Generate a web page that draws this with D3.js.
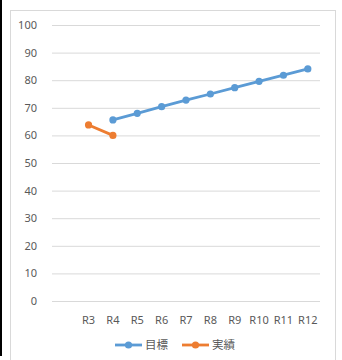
<!DOCTYPE html>
<html><head><meta charset="utf-8">
<script src="https://cdn.jsdelivr.net/npm/d3@7"></script>
<style>body{margin:0;background:#fff}svg{display:block}text{font-family:"Noto Sans CJK JP","Noto Sans",sans-serif}</style>
</head><body>
<script>
const categories = ["", "R3", "R4", "R5", "R6", "R7", "R8", "R9", "R10", "R11", "R12"];
const targetValues = [null, null, 65.6, 68.0, 70.4, 72.8, 75.0, 77.3, 79.6, 81.8, 84.1];
const actualValues = [null, 63.8, 60.0, null, null, null, null, null, null, null, null];
const yTicks = [0, 10, 20, 30, 40, 50, 60, 70, 80, 90, 100];
const seriesNames = ["目標", "実績"];
const colors = ["#5B9BD5", "#ED7D31"];

const W = 342, H = 360;
const svg = d3.select("body").append("svg").attr("width", W).attr("height", H);
svg.append("rect").attr("x", 10.5).attr("y", 10.5).attr("width", 325).attr("height", 360).attr("fill", "#fff").attr("stroke", "#D9D9D9");
svg.append("line").attr("x1", 1).attr("x2", 1).attr("y1", 0).attr("y2", 356).attr("stroke", "#000").attr("stroke-width", 2);

const x = d3.scaleBand().domain(categories.map((c, i) => i)).range([52, 320]);
const y = d3.scaleLinear().domain([0, 100]).range([301, 25]);

const yAxis = svg.append("g").attr("transform", "translate(52,0)")
  .call(d3.axisLeft(y).tickValues(yTicks).tickSize(-268).tickPadding(15));
yAxis.select(".domain").remove();
yAxis.selectAll("line").attr("stroke", "#D9D9D9");
yAxis.selectAll("text").attr("fill", "#595959").style("font-size", "11px").style("font-family", "'Noto Sans','DejaVu Sans',sans-serif");

const xAxis = svg.append("g").attr("transform", "translate(0,301)")
  .call(d3.axisBottom(x).tickFormat(i => categories[i]).tickSize(0).tickPadding(15));
xAxis.select(".domain").remove();
xAxis.selectAll("text").attr("fill", "#595959").style("font-size", "11px").style("font-family", "'Noto Sans','DejaVu Sans',sans-serif");

const cx = i => x(i) + x.bandwidth() / 2;
[targetValues, actualValues].forEach((vals, s) => {
  const pts = vals.map((v, i) => ({i, v})).filter(d => d.v != null);
  svg.append("path").datum(pts)
    .attr("fill", "none").attr("stroke", colors[s]).attr("stroke-width", 2.8).attr("stroke-linecap", "round")
    .attr("d", d3.line().x(d => cx(d.i)).y(d => y(d.v)));
  svg.selectAll(null).data(pts).enter().append("circle")
    .attr("cx", d => cx(d.i)).attr("cy", d => y(d.v)).attr("r", 3.6).attr("fill", colors[s]);
});

const legend = svg.append("g").attr("transform", "translate(0,345)");
const lx = [115, 182];
seriesNames.forEach((n, s) => {
  legend.append("line").attr("x1", lx[s]).attr("x2", lx[s] + 27).attr("y1", 0).attr("y2", 0).attr("stroke", colors[s]).attr("stroke-width", 2.8);
  legend.append("circle").attr("cx", lx[s] + 13.5).attr("cy", 0).attr("r", 3.6).attr("fill", colors[s]);
  legend.append("text").attr("x", lx[s] + 30).attr("y", 4).attr("fill", "#595959").style("font-size", "11.5px").text(n);
});
</script>
</body></html>
